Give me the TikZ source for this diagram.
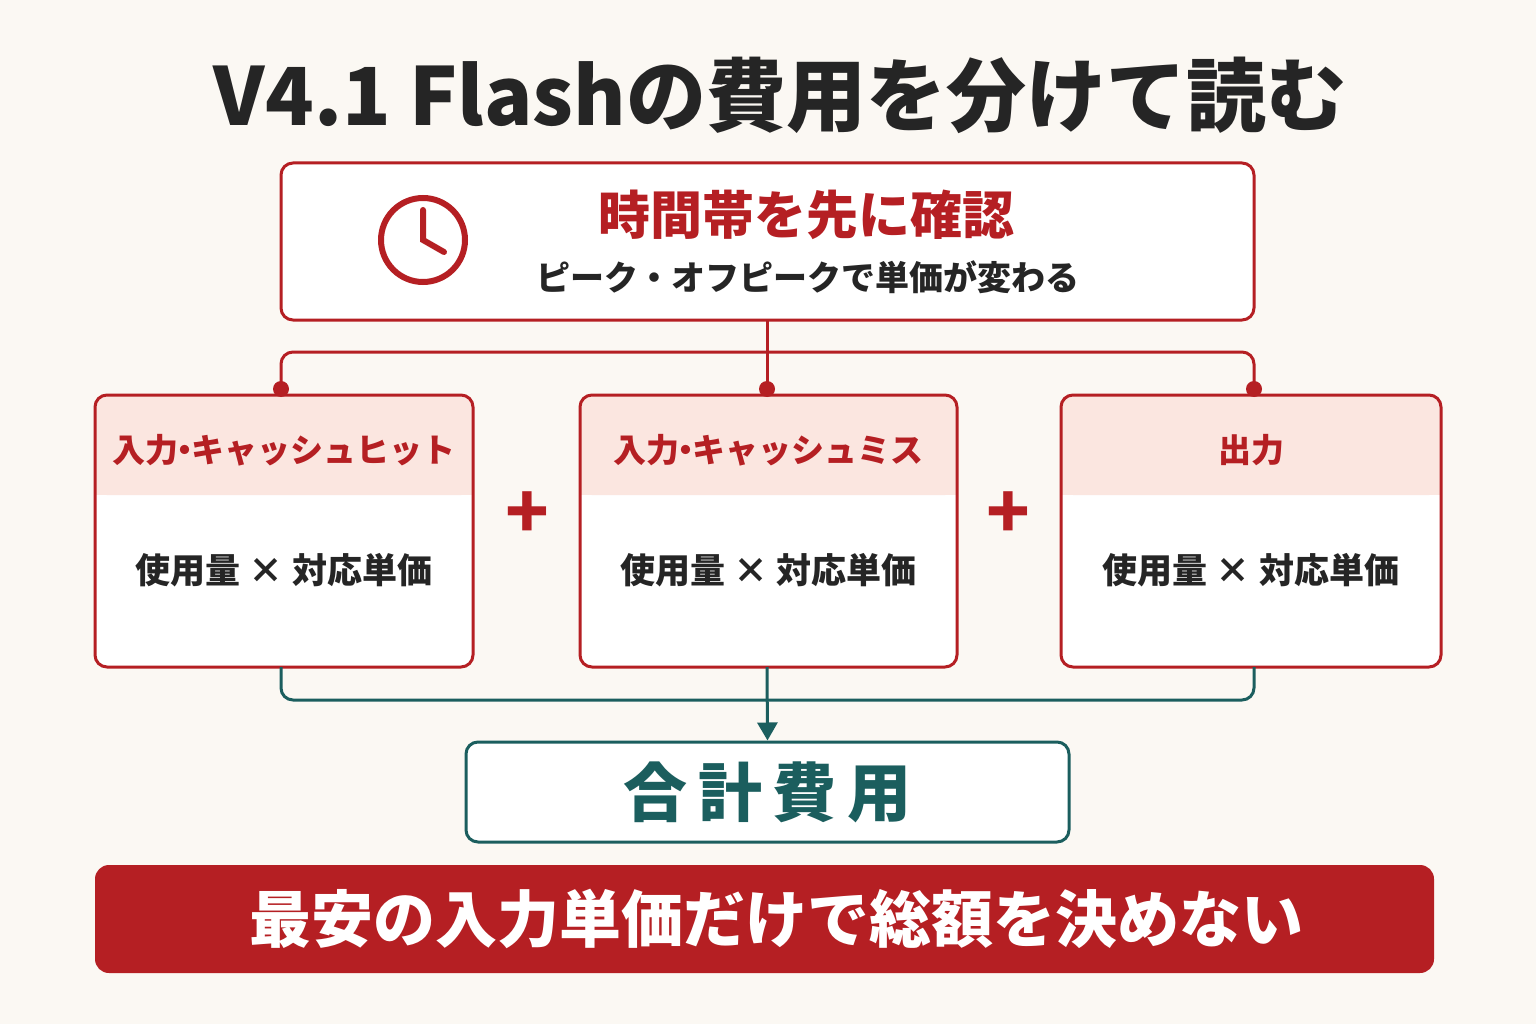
\documentclass[tikz,border=0pt]{standalone}
\usepackage{fontspec}
\setmainfont{Noto Sans CJK JP}
\usetikzlibrary{arrows.meta,calc}
\definecolor{bg}{HTML}{FBF8F3}
\definecolor{rd}{HTML}{B51F23}
\definecolor{pk}{HTML}{FBE6E0}
\definecolor{tl}{HTML}{1B5E5E}
\definecolor{dk}{HTML}{252525}
\newcommand{\fs}[1]{\fontsize{#1}{#1}\selectfont}
\newcommand{\nd}{\hspace{-0.3em}・\hspace{-0.3em}}
\begin{document}
\begin{tikzpicture}[x=1pt,y=-1pt,
 rbox/.style={draw=rd,line width=3pt,rounded corners=12pt,fill=white},
 rline/.style={draw=rd,line width=3pt,rounded corners=12pt},
 tline/.style={draw=tl,line width=3pt,rounded corners=12pt},
 hdr/.style={text=rd,font=\bfseries\fs{33}},
 body/.style={text=dk,font=\bfseries\fs{35}}]
\fill[bg] (0,0) rectangle (1536,1024);
\useasboundingbox (0,0) rectangle (1536,1024);
\node[text=dk,font=\bfseries\fs{80}] (title) at (780,95) {V4.1 Flashの費用を分けて読む};
% top box
\draw[rbox] (281,163) rectangle (1254,320);
\coordinate (tb) at (767,320);
\draw[rd,line width=6pt] (423,240) circle (42);
\draw[rd,line width=6pt,line cap=round] (423,210) -- (423,240) -- (444,252);
\node[text=rd,font=\bfseries\fs{52}] (t1) at (806,215) {時間帯を先に確認};
\node[text=dk,font=\bfseries\fs{34}] (t2) at (808,277) {ピーク・オフピークで単価が変わる};
% three boxes
\foreach \n/\a/\b/\h in {A/95/473/入力\nd キャッシュヒット,B/580/957/入力\nd キャッシュミス,C/1061/1441/出力}{
 \fill[white,rounded corners=12pt] (\a,395) rectangle (\b,667);
 \fill[pk,rounded corners=12pt] (\a,395) rectangle (\b,495);
 \fill[pk] (\a,450) rectangle (\b,495);
 \draw[rbox,fill=none] (\a,395) rectangle (\b,667);
 \node[hdr] (\n h) at ({(\a+\b)/2},450) {\h};
 \node[body] (\n b) at ({(\a+\b)/2},570) {使用量 × 対応単価};
}
\coordinate (ca) at (281,395); \coordinate (cb) at (767,395); \coordinate (cc) at (1254,395);
\draw[rline] (ca) -- (281,352) -- (1254,352) -- (cc);
\draw[rline] (tb) -- (cb);
\foreach \p in {ca,cb,cc} \fill[rd] ($(\p)+(0,-6)$) circle (8);
\node[text=rd,font=\bfseries\fs{72}] (p1) at (527,515) {+};
\node[text=rd,font=\bfseries\fs{72}] (p2) at (1008,515) {+};
% total
\node[draw=tl,line width=3pt,rounded corners=12pt,fill=white,minimum width=603,minimum height=100,text=tl,font=\bfseries\fs{64}] (tot) at (767.5,792) {合\,計\,費\,用};
\coordinate (da) at (281,667); \coordinate (dc) at (1254,667); \coordinate (db) at (767,667);
\draw[tline] (da) -- (281,700) -- (1254,700) -- (dc);
\draw[tl,line width=3pt,-{Triangle[length=18pt,width=20pt]}] (db) -- (tot.north);
% banner
\fill[rd,rounded corners=14pt] (95,865) rectangle (1434,973);
\node[text=white,font=\bfseries\fs{62}] (ban) at (776,919) {最安の入力単価だけで総額を決めない};
\end{tikzpicture}
\end{document}
